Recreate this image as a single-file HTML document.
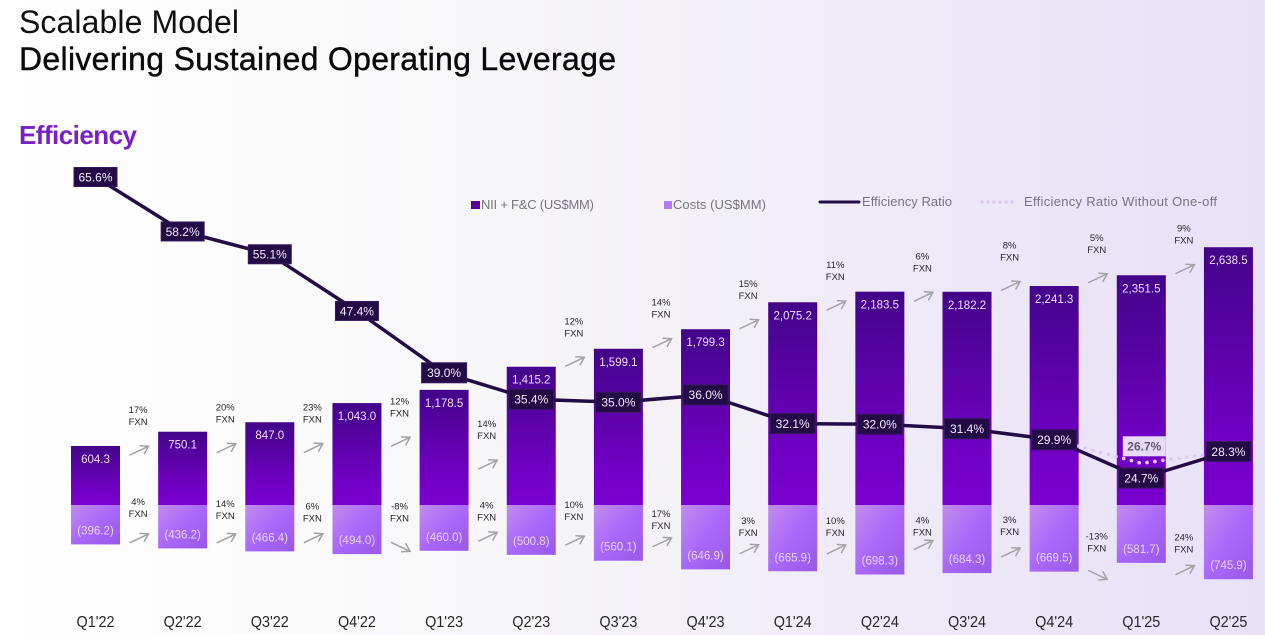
<!DOCTYPE html>
<html lang="en">
<head>
<meta charset="utf-8">
<title>Scalable Model - Efficiency</title>
<style>
html,body{margin:0;padding:0;width:1265px;height:635px;overflow:hidden;background:#fff}
svg{display:block;font-family:"Liberation Sans",sans-serif}
</style>
</head>
<body>
<svg id="chart" xmlns="http://www.w3.org/2000/svg" width="1265" height="635" viewBox="0 0 1265 635">
  <defs>
    <linearGradient id="bg" x1="0" y1="0" x2="1" y2="0">
      <stop offset="0" stop-color="#ffffff"/>
      <stop offset="0.25" stop-color="#fafafa"/>
      <stop offset="0.55" stop-color="#f3f1f7"/>
      <stop offset="0.8" stop-color="#ece6f7"/>
      <stop offset="1" stop-color="#e9e1f8"/>
    </linearGradient>
    <linearGradient id="nii-fill" x1="0" y1="0" x2="0" y2="1">
      <stop offset="0" stop-color="#43048a"/>
      <stop offset="0.75" stop-color="#7100c4"/>
      <stop offset="1" stop-color="#7a00cf"/>
    </linearGradient>
    <linearGradient id="cost-fill" x1="0" y1="0" x2="1" y2="1">
      <stop offset="0" stop-color="#c28cec"/>
      <stop offset="0.5" stop-color="#aa68fb"/>
      <stop offset="1" stop-color="#9a58e6"/>
    </linearGradient>
  </defs>
  <rect x="0" y="0" width="1265" height="635" fill="url(#bg)"/>
  <text x="19" y="33" font-size="32" fill="#111" textLength="220">Scalable Model</text>
  <text x="19" y="70" font-size="32" fill="#0a0a0a" stroke="#0a0a0a" stroke-width="0.4" textLength="597">Delivering Sustained Operating Leverage</text>
  <text x="19" y="144" font-size="26" font-weight="bold" fill="#7a1fc4" textLength="118">Efficiency</text>

  <g>
    <g>
      <rect x="471" y="201" width="9" height="8" fill="#5a0399"/>
      <text x="481" y="209" font-size="13" fill="#77737f" textLength="113">NII + F&amp;C (US$MM)</text>
    </g>
    <g>
      <rect x="664" y="201" width="8" height="8" fill="#b57bf2"/>
      <text x="673" y="209" font-size="13" fill="#77737f" textLength="93">Costs (US$MM)</text>
    </g>
    <g>
      <line x1="820" y1="202" x2="859" y2="202" stroke="#230b46" stroke-width="3" stroke-linecap="round"/>
      <text x="862" y="206" font-size="13" fill="#77737f" textLength="90">Efficiency Ratio</text>
    </g>
    <g>
      <line x1="982" y1="202" x2="1017" y2="202" stroke="#dcc8f5" stroke-width="3.5" stroke-linecap="round" stroke-dasharray="0 6"/>
      <text x="1024" y="206" font-size="13" fill="#77737f" textLength="193">Efficiency Ratio Without One-off</text>
    </g>
  </g>
  <g id="plot"></g>
</svg>
<script>
// Chart data
const categories = ["Q1'22","Q2'22","Q3'22","Q4'22","Q1'23","Q2'23","Q3'23","Q4'23","Q1'24","Q2'24","Q3'24","Q4'24","Q1'25","Q2'25"];
const niiValues = [604.3,750.1,847.0,1043.0,1178.5,1415.2,1599.1,1799.3,2075.2,2183.5,2182.2,2241.3,2351.5,2638.5];
const costValues = [396.2,436.2,466.4,494.0,460.0,500.8,560.1,646.9,665.9,698.3,684.3,669.5,581.7,745.9];
const efficiencyRatio = [65.6,58.2,55.1,47.4,39.0,35.4,35.0,36.0,32.1,32.0,31.4,29.9,24.7,28.3];
const ratioWithoutOneOff = [null,null,null,null,null,null,null,null,null,null,null,29.9,26.7,28.3];
const niiGrowth = [17,20,23,12,14,12,14,15,11,6,8,5,9];
const costGrowth = [4,14,6,-8,4,10,17,3,10,4,3,-13,24];

// Axis functions
const BASELINE = 505;
const yNii = v => BASELINE - v * 0.0977;
const yCost = v => BASELINE + v * 0.0995;
const yRatio = v => 177 + (65.6 - v) * 7.36;
const BAR_W = 49;
const barX = i => 71 + i * 87.15;
const centerX = i => barX(i) + BAR_W / 2;
const gapX = i => barX(i) + BAR_W + (87.15 - BAR_W) / 2;

// Annotation layout nudges (hand-placed clearance, not data)
const upperNudge = [19,26,45,52,98,13,14,22,14,5,0,3,22];
const lowerNudge = [-10,-13,-16,-4,-18,-20,-27,-22,-25,-28,-19,12,-9];
const lowerRise = [37,35,32,41,32,36,29,29,29,25,33,39,33];

const NS = 'http://www.w3.org/2000/svg';
const plot = document.getElementById('plot');
const defs = document.querySelector('#chart defs');
function mk(tag, attrs, parent) {
  const el = document.createElementNS(NS, tag);
  for (const k in attrs) el.setAttribute(k, attrs[k]);
  (parent || plot).appendChild(el);
  return el;
}
function linePath(vals) {
  let d = '';
  vals.forEach((v, i) => {
    if (v === null) return;
    d += (d ? 'L' : 'M') + centerX(i).toFixed(1) + ' ' + yRatio(v).toFixed(1);
  });
  return d;
}
function drawArrow(cx, cy, growth, label) {
  const dir = growth < 0 ? 1 : -1;
  const tipX = cx + 9.5, tipY = cy + dir * 4.5;
  const arrow = mk('path', {
    d: 'M' + (cx - 9.5) + ' ' + (cy - dir * 4.5) + 'L' + tipX + ' ' + tipY +
       'M' + (tipX - 9) + ' ' + (tipY + dir * 0.5) + 'L' + tipX + ' ' + tipY + 'L' + (tipX - 4.5) + ' ' + (tipY - dir * 8),
    fill: 'none', stroke: '#a2a2a6', 'stroke-width': 1.5
  });
  
  
}
function drawGrowthLabel(cx, y, growth, label) {
  const t = mk('text', {x: cx, y: y + 3.5, 'font-size': 9.5, fill: '#26262a', 'text-anchor': 'middle'});
  t.textContent = growth + '%';
  
  
  const f = mk('text', {x: cx, y: y + 15.5, 'font-size': 9.5, fill: '#26262a', 'text-anchor': 'middle'});
  f.textContent = 'FXN';
  
  
}

// Bars, bar values, category labels
categories.forEach((c, i) => {
  const nTop = yNii(niiValues[i]);
  const nBar = mk('rect', {x: barX(i), y: nTop, width: BAR_W, height: BASELINE - nTop, fill: 'url(#nii-fill)'});
  
  

  const cBottom = yCost(costValues[i]);
  const cBar = mk('rect', {x: barX(i), y: BASELINE, width: BAR_W, height: cBottom - BASELINE, fill: 'url(#cost-fill)'});
  
  

  const nText = mk('text', {x: centerX(i), y: nTop + 17, 'font-size': 11.5, fill: '#efdcff', 'text-anchor': 'middle'});
  nText.textContent = niiValues[i].toLocaleString('en-US', {minimumFractionDigits: 1, maximumFractionDigits: 1});
  
  

  const cText = mk('text', {x: centerX(i), y: cBottom - 10, 'font-size': 11.5, fill: '#e6d3fb', 'text-anchor': 'middle'});
  cText.textContent = '(' + costValues[i].toFixed(1) + ')';
  
  

  const cat = mk('text', {x: centerX(i), y: 627, 'font-size': 15.5, fill: '#26262a', 'text-anchor': 'middle', textLength: 38, lengthAdjust: 'spacingAndGlyphs'});
  cat.textContent = c;
  
  
});

// Growth arrows and FXN labels
niiGrowth.forEach((g, i) => {
  const cx = gapX(i);
  const cy = yNii(niiValues[i + 1]) + upperNudge[i];
  drawArrow(cx, cy, g, 'nii-growth-' + i);
  drawGrowthLabel(cx - 1, cy - 41, g, 'nii-growth-' + i);
});
costGrowth.forEach((g, i) => {
  const cx = gapX(i);
  const cy = yCost(costValues[i + 1]) + lowerNudge[i];
  drawArrow(cx, cy, g, 'cost-growth-' + i);
  drawGrowthLabel(cx - 1, cy - lowerRise[i], g, 'cost-growth-' + i);
});

// One-off dotted line: pale everywhere, bright over the Q1'25 bar
const oneOffD = linePath(ratioWithoutOneOff);
const paleLine = mk('path', {d: oneOffD, fill: 'none', stroke: '#dcc8f5', 'stroke-width': 3.5, 'stroke-linecap': 'round', 'stroke-dasharray': '0 8'});


const clip = mk('clipPath', {id: 'one-off-clip'}, defs);
const clipRect = mk('rect', {x: barX(12), y: 0, width: BAR_W, height: 635}, clip);


const brightLine = mk('path', {d: oneOffD, fill: 'none', stroke: '#f0c4ff', 'stroke-width': 3.5, 'stroke-linecap': 'round', 'stroke-dasharray': '0 8', 'clip-path': 'url(#one-off-clip)'});



// Efficiency ratio line
const ratioLine = mk('path', {d: linePath(efficiencyRatio), fill: 'none', stroke: '#230b46', 'stroke-width': 3.5, 'stroke-linejoin': 'round'});



efficiencyRatio.forEach((v, i) => {
  const w = i < 4 ? 43 : 45;
  const h = i < 4 ? 19 : 20;
  const cx = centerX(i), cy = yRatio(v);
  const box = mk('rect', {x: cx - w / 2, y: cy - h / 2, width: w, height: h, fill: '#230b46', stroke: '#38195f', 'stroke-width': 1});
  
  
  const t = mk('text', {x: cx, y: cy + 4.3, 'font-size': 12, fill: '#f3eafd', 'text-anchor': 'middle'});
  t.textContent = v.toFixed(1) + '%';
  
  
});

// Highlighted value on the one-off line
const oneOffIndex = 12;
const ooBox = mk('rect', {x: barX(oneOffIndex) + 6, y: yRatio(ratioWithoutOneOff[oneOffIndex]) - 27, width: 43, height: 20, fill: '#e6daf7'});


const ooText = mk('text', {x: barX(oneOffIndex) + 27.5, y: yRatio(ratioWithoutOneOff[oneOffIndex]) - 12.7, 'font-size': 12, 'font-weight': 'bold', fill: '#5f5a78', 'text-anchor': 'middle'});
ooText.textContent = ratioWithoutOneOff[oneOffIndex].toFixed(1) + '%';


</script>
</body>
</html>
